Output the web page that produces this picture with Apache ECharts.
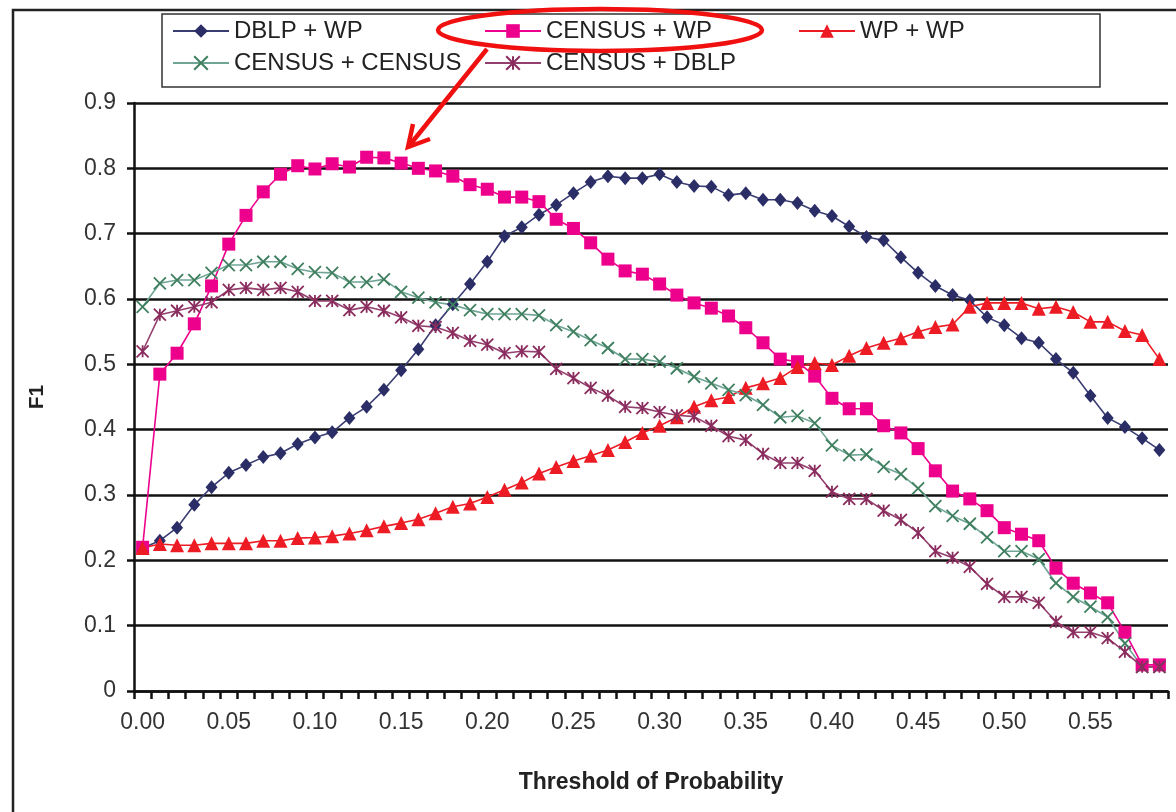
<!DOCTYPE html>
<html>
<head>
<meta charset="utf-8">
<script src="https://cdn.jsdelivr.net/npm/echarts@6/dist/echarts.min.js"></script>
<style>
html,body{margin:0;padding:0;background:#fff;}
#chart{width:1176px;height:812px;}
</style>
</head>
<body>
<div id="chart"></div>
<script>
const thresholds = ['0.00','0.01','0.02','0.03','0.04','0.05','0.06','0.07','0.08','0.09',
  '0.10','0.11','0.12','0.13','0.14','0.15','0.16','0.17','0.18','0.19',
  '0.20','0.21','0.22','0.23','0.24','0.25','0.26','0.27','0.28','0.29',
  '0.30','0.31','0.32','0.33','0.34','0.35','0.36','0.37','0.38','0.39',
  '0.40','0.41','0.42','0.43','0.44','0.45','0.46','0.47','0.48','0.49',
  '0.50','0.51','0.52','0.53','0.54','0.55','0.56','0.57','0.58','0.59'];

const dblpWp = [0.219,0.23,0.25,0.285,0.312,0.334,0.346,0.358,0.364,0.378,
  0.388,0.396,0.418,0.435,0.461,0.491,0.523,0.56,0.592,0.623,
  0.657,0.696,0.71,0.729,0.744,0.762,0.779,0.788,0.785,0.785,
  0.791,0.779,0.773,0.772,0.759,0.762,0.752,0.752,0.747,0.735,
  0.727,0.711,0.695,0.69,0.664,0.64,0.62,0.606,0.598,0.572,
  0.56,0.54,0.533,0.508,0.487,0.452,0.418,0.404,0.387,0.369];

const censusWp = [0.22,0.485,0.517,0.562,0.62,0.684,0.728,0.764,0.791,0.804,
  0.799,0.807,0.802,0.817,0.816,0.808,0.80,0.796,0.788,0.775,
  0.768,0.756,0.756,0.749,0.722,0.708,0.686,0.661,0.643,0.638,
  0.623,0.606,0.594,0.586,0.574,0.556,0.533,0.508,0.504,0.482,
  0.448,0.432,0.432,0.406,0.395,0.371,0.337,0.306,0.294,0.276,
  0.25,0.24,0.23,0.188,0.165,0.15,0.135,0.09,0.04,0.04];

const wpWp = [0.219,0.225,0.223,0.223,0.226,0.226,0.226,0.23,0.23,0.234,
  0.235,0.237,0.241,0.246,0.252,0.257,0.263,0.272,0.282,0.287,
  0.297,0.308,0.319,0.333,0.343,0.352,0.36,0.369,0.381,0.395,
  0.406,0.419,0.435,0.445,0.45,0.464,0.471,0.479,0.496,0.502,
  0.499,0.513,0.525,0.533,0.54,0.55,0.557,0.561,0.588,0.594,
  0.594,0.594,0.585,0.588,0.58,0.565,0.565,0.551,0.545,0.508];

const censusCensus = [0.588,0.624,0.629,0.629,0.64,0.652,0.652,0.657,0.657,0.646,
  0.641,0.64,0.626,0.626,0.63,0.611,0.602,0.595,0.591,0.583,
  0.577,0.577,0.577,0.575,0.56,0.55,0.537,0.525,0.508,0.508,
  0.504,0.494,0.481,0.471,0.461,0.453,0.438,0.419,0.421,0.41,
  0.376,0.361,0.362,0.343,0.332,0.31,0.283,0.268,0.256,0.235,
  0.214,0.214,0.202,0.165,0.144,0.129,0.113,0.073,0.037,0.037];

const censusDblp = [0.52,0.576,0.582,0.588,0.595,0.614,0.617,0.614,0.617,0.611,
  0.597,0.597,0.583,0.588,0.582,0.572,0.559,0.557,0.548,0.536,
  0.53,0.517,0.52,0.519,0.493,0.479,0.464,0.452,0.435,0.433,
  0.427,0.422,0.42,0.406,0.39,0.384,0.363,0.349,0.349,0.337,
  0.305,0.294,0.294,0.276,0.262,0.242,0.214,0.204,0.19,0.164,
  0.144,0.144,0.135,0.106,0.09,0.09,0.081,0.06,0.037,0.037];

const seriesNames = ['DBLP + WP','CENSUS + WP','WP + WP','CENSUS + CENSUS','CENSUS + DBLP'];
const yTicks = [0,0.1,0.2,0.3,0.4,0.5,0.6,0.7,0.8,0.9];

const FONT = 'Liberation Sans, Arial, sans-serif';
const X_PATH = 'path://M0,0L10,10M10,0L0,10';
const STAR_PATH = 'path://M5,0L5,10M0,0L10,10M10,0L0,10';

function mkSeries(name, data, symbol, size, lineColor, markColor, stroke) {
  return {
    name: name,
    type: 'line',
    data: data,
    symbol: symbol,
    symbolSize: size,
    showAllSymbol: true,
    lineStyle: {color: lineColor, width: 1.6},
    itemStyle: stroke
      ? {color: markColor, borderColor: markColor, borderWidth: 1.8}
      : {color: markColor, borderWidth: 0},
    emphasis: {disabled: true},
    animation: false
  };
}

const chart = echarts.init(document.getElementById('chart'), null, {renderer: 'canvas'});

function legendAt(name, left, top) {
  return {
    data: [name], left: left, top: top, itemWidth: 56, itemHeight: 17,
    textStyle: {fontFamily: FONT, fontSize: 24, color: '#222'},
    selectedMode: false, padding: 0, z: 10
  };
}

chart.setOption({
  backgroundColor: '#fff',
  animation: false,
  grid: {left: 134, right: 8, top: 103, bottom: 121, containLabel: false},
  legend: [
    legendAt(seriesNames[0], 172, 19),
    legendAt(seriesNames[1], 484, 19),
    legendAt(seriesNames[2], 798, 19),
    legendAt(seriesNames[3], 172, 51),
    legendAt(seriesNames[4], 484, 51)
  ],
  xAxis: {
    type: 'category',
    data: thresholds,
    boundaryGap: true,
    name: 'Threshold of Probability',
    nameLocation: 'middle',
    nameGap: 80,
    nameTextStyle: {fontFamily: FONT, fontSize: 23, fontWeight: 'bold', color: '#222'},
    axisLine: {lineStyle: {color: '#111', width: 2.5}},
    axisTick: {show: true, interval: 0, alignWithLabel: false, length: 8, lineStyle: {color: '#111', width: 2.5}},
    axisLabel: {interval: 4, margin: 20, fontFamily: FONT, fontSize: 23, color: '#333'},
    splitLine: {show: false}
  },
  yAxis: {
    type: 'value',
    min: yTicks[0],
    max: yTicks[yTicks.length - 1],
    interval: 0.1,
    name: 'F1',
    nameLocation: 'middle',
    nameGap: 86,
    nameRotate: 90,
    nameTextStyle: {fontFamily: FONT, fontSize: 21, fontWeight: 'bold', color: '#222'},
    axisLine: {show: true, lineStyle: {color: '#111', width: 2.5}},
    axisTick: {show: true, length: 7, lineStyle: {color: '#111', width: 2.5}},
    axisLabel: {margin: 18, fontFamily: FONT, fontSize: 23, color: '#333',
      formatter: function (v) { return v === 0 ? '0' : v.toFixed(1); }},
    splitLine: {show: true, lineStyle: {color: '#111', width: 2.5}}
  },
  series: [
    mkSeries(seriesNames[0], dblpWp, 'diamond', [12, 14], '#3A3D72', '#2B2E66', false),
    mkSeries(seriesNames[1], censusWp, 'rect', 13, '#EC008C', '#EC008C', false),
    mkSeries(seriesNames[2], wpWp, 'triangle', 14, '#ED1C24', '#ED1C24', false),
    mkSeries(seriesNames[3], censusCensus, X_PATH, 12, '#6FA595', '#3F7F5F', true),
    mkSeries(seriesNames[4], censusDblp, STAR_PATH, 12, '#93406E', '#8A2C5E', true)
  ],
  graphic: [
    {type: 'polyline', z: 0, silent: true,
      shape: {points: [[13, 812], [13, 10], [1176, 10]]},
      style: {stroke: '#222', lineWidth: 2.5, fill: null}},
    {type: 'rect', z: 1, silent: true,
      shape: {x: 162, y: 14, width: 938, height: 73},
      style: {stroke: '#333', lineWidth: 1.5, fill: '#fff'}},
    {type: 'ellipse', z: 100, silent: true,
      shape: {cx: 600, cy: 30, rx: 162, ry: 21},
      style: {stroke: '#F01010', lineWidth: 4.5, fill: null}},
    {type: 'line', z: 100, silent: true,
      shape: {x1: 487, y1: 49, x2: 409, y2: 146},
      style: {stroke: '#F01010', lineWidth: 4.5}},
    {type: 'polyline', z: 100, silent: true,
      shape: {points: [[413, 124], [408, 147], [430, 139]]},
      style: {stroke: '#F01010', lineWidth: 4.5, fill: null}}
  ]
});
</script>
</body>
</html>
